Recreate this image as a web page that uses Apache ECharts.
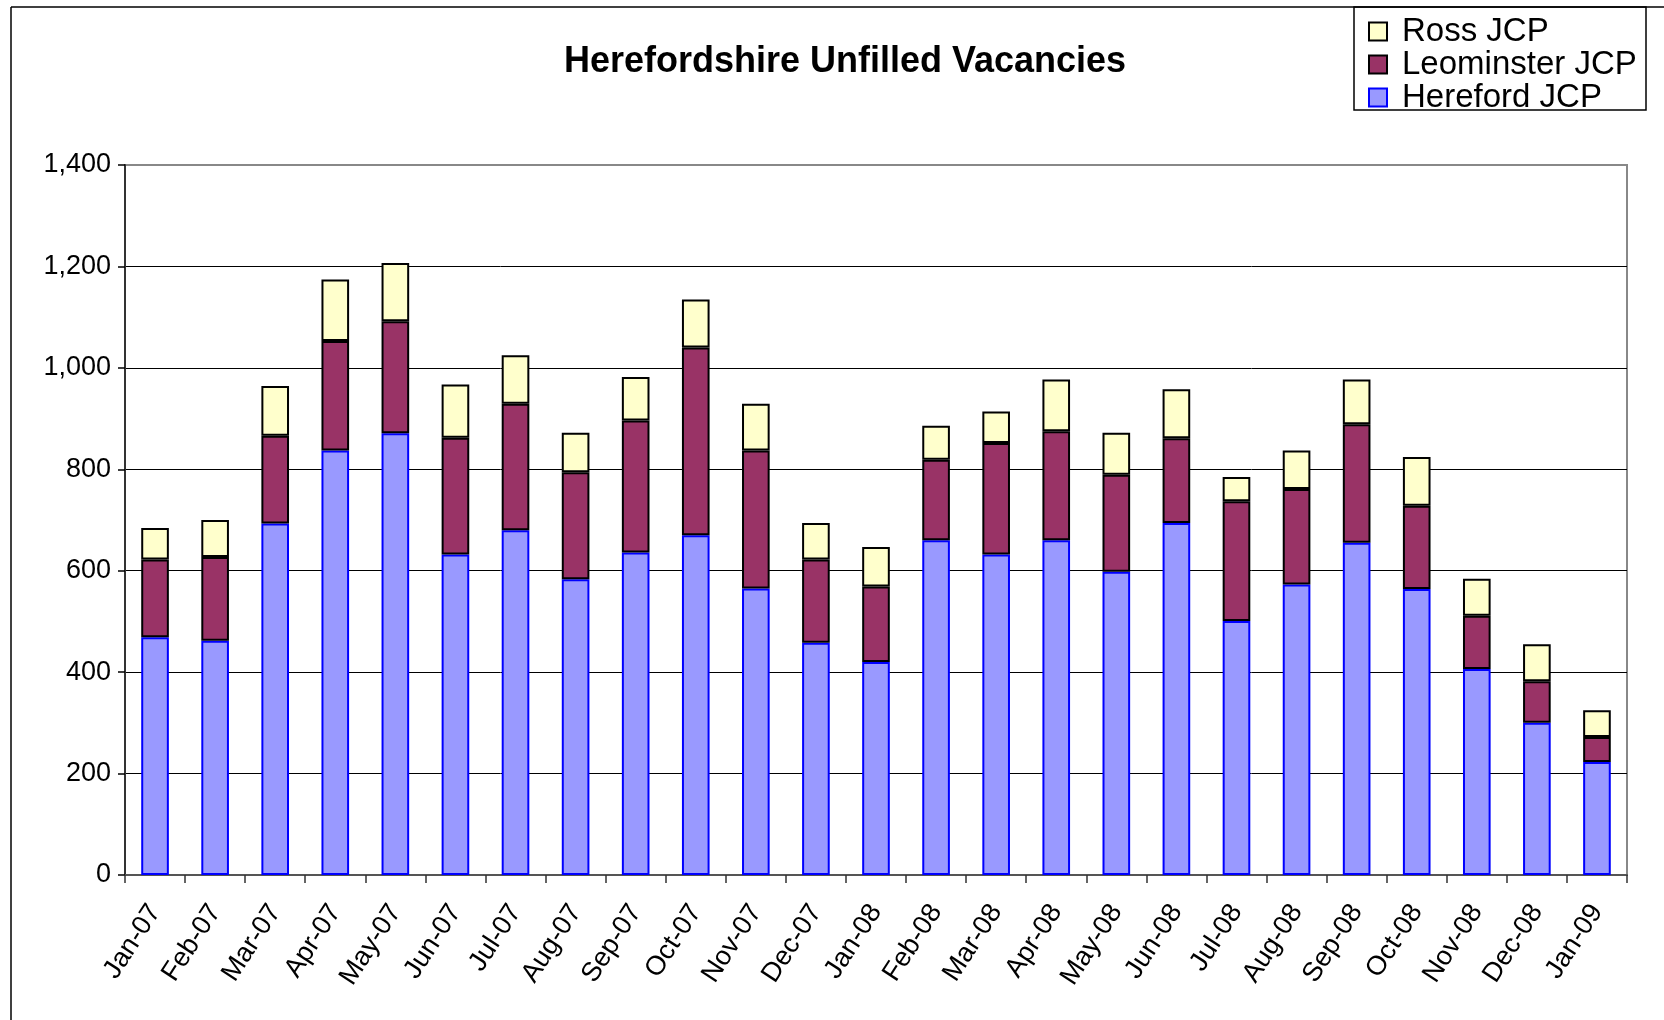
<!DOCTYPE html>
<html>
<head>
<meta charset="utf-8">
<title>Herefordshire Unfilled Vacancies</title>
<script src="https://cdn.jsdelivr.net/npm/echarts@6/dist/echarts.min.js"></script>
<style>
  html, body { margin: 0; padding: 0; background: #fff; }
  #chart { width: 1664px; height: 1020px; }
</style>
</head>
<body>
<div id="chart"></div>
<script>
const months = ['Jan-07', 'Feb-07', 'Mar-07', 'Apr-07', 'May-07', 'Jun-07', 'Jul-07', 'Aug-07', 'Sep-07',
  'Oct-07', 'Nov-07', 'Dec-07', 'Jan-08', 'Feb-08', 'Mar-08', 'Apr-08', 'May-08', 'Jun-08', 'Jul-08',
  'Aug-08', 'Sep-08', 'Oct-08', 'Nov-08', 'Dec-08', 'Jan-09']
const hereford = [469, 462, 693, 837, 871, 632, 680, 583, 636, 670, 565, 458, 420, 660, 632, 660, 598, 694, 501, 573, 655, 564, 406, 300, 223]
const leominster = [153, 165, 173, 216, 221, 230, 249, 211, 260, 370, 272, 164, 149, 159, 220, 215, 191, 167, 236, 188, 234, 164, 105, 82, 49]
const ross = [62, 73, 98, 121, 115, 105, 96, 78, 86, 95, 92, 72, 78, 67, 62, 102, 83, 97, 48, 76, 88, 96, 73, 73, 53]
const yTicks = [0, 200, 400, 600, 800, 1000, 1200, 1400]

const font = '"Liberation Sans", Arial, sans-serif'

const chart = echarts.init(document.getElementById('chart'))

chart.setOption({
  animation: false,
  backgroundColor: '#fff',
  textStyle: { fontFamily: font, color: '#000' },
  title: {
    text: 'Herefordshire Unfilled Vacancies',
    left: 845,
    textAlign: 'center',
    top: 44,
    padding: 0,
    textStyle: { fontFamily: font, fontSize: 36, fontWeight: 'bold', color: '#000' }
  },
  legend: {
    orient: 'vertical',
    left: 1368,
    top: 15,
    padding: 0,
    itemGap: 0,
    itemWidth: 18,
    itemHeight: 18,
    icon: 'rect',
    data: ['Ross JCP', 'Leominster JCP', 'Hereford JCP'],
    itemStyle: { borderWidth: 2 },
    textStyle: { fontFamily: font, fontSize: 33, lineHeight: 31, color: '#000', padding: [0, 0, 0, 10] }
  },
  graphic: [
    // outer frame (top and left only visible)
    { type: 'line', shape: { x1: 11, y1: 7, x2: 1664, y2: 7 }, style: { stroke: '#000', lineWidth: 1.5 } },
    { type: 'line', shape: { x1: 11, y1: 7, x2: 11, y2: 1020 }, style: { stroke: '#000', lineWidth: 1.5 } },
    // legend box
    { type: 'rect', shape: { x: 1354, y: 7, width: 292, height: 103 }, style: { fill: 'none', stroke: '#000', lineWidth: 1.5 }, z: 10 }
  ],
  grid: {
    left: 125,
    right: 37,
    top: 165,
    bottom: 145,
    show: true,
    borderColor: '#888',
    borderWidth: 2,
    containLabel: false
  },
  xAxis: {
    type: 'category',
    data: months,
    boundaryGap: true,
    axisLine: { lineStyle: { color: '#555', width: 2 } },
    axisTick: { show: true, length: 8, alignWithLabel: false, lineStyle: { color: '#333', width: 1.5 } },
    axisLabel: {
      interval: 0,
      rotate: 57,
      margin: 32,
      fontFamily: font,
      fontSize: 27,
      color: '#000'
    }
  },
  yAxis: {
    type: 'value',
    min: yTicks[0],
    max: yTicks[yTicks.length - 1],
    interval: 200,
    axisLine: { show: true, lineStyle: { color: '#333', width: 2 } },
    axisTick: { show: true, length: 7, lineStyle: { color: '#000', width: 1.5 } },
    axisLabel: {
      margin: 14,
      fontFamily: font,
      fontSize: 27,
      color: '#000',
      formatter: v => v.toLocaleString('en-US')
    },
    splitLine: {
      lineStyle: { color: ['#000', '#000', '#000', '#000', '#000', '#000', '#000', '#888'], width: 1 }
    }
  },
  series: [{
    name: 'Hereford JCP',
    type: 'bar',
    stack: 'jcp',
    barWidth: '46%',
    data: hereford,
    itemStyle: { color: '#9999FF', borderColor: '#0000FF', borderWidth: 2 }
  }, {
    name: 'Leominster JCP',
    type: 'bar',
    stack: 'jcp',
    data: leominster,
    itemStyle: { color: '#993366', borderColor: '#000', borderWidth: 2 }
  }, {
    name: 'Ross JCP',
    type: 'bar',
    stack: 'jcp',
    data: ross,
    itemStyle: { color: '#FFFFCC', borderColor: '#000', borderWidth: 2 }
  }]
})
</script>
</body>
</html>
